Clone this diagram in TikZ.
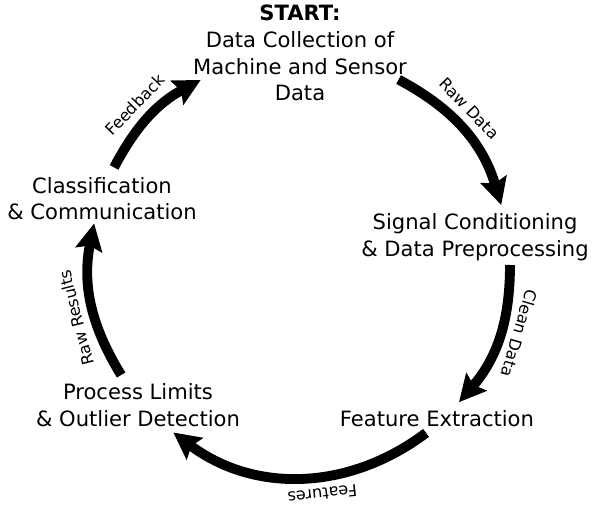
\documentclass[tikz,border=0pt]{standalone}
\usepackage{fontspec}
\setmainfont{DejaVu Sans}
\usetikzlibrary{arrows.meta}

\tikzstyle{stage} = [align=center, font=\fontsize{15}{19}\selectfont]
\tikzstyle{flow} = [line width=7pt, -{Stealth[length=19pt,width=19pt,inset=3pt]}]
\tikzstyle{flowlabel} = [pos=0.42, sloped, allow upside down, above=4pt, inner sep=1pt, font=\fontsize{11.5}{13}\selectfont]

\begin{document}
\begin{tikzpicture}
	\useasboundingbox (-7.5,-6.05) rectangle (7.5,6.625);
	\node[stage] (start) at (0,5.3) {\textbf{START:}\\Data Collection of\\Machine and Sensor\\Data};
	\node[stage] (sig) at (4.375,0.7) {Signal Conditioning\\\& Data Preprocessing};
	\node[stage] (feat) at (3.425,-3.85) {Feature Extraction};
	\node[stage] (proc) at (-4.05,-3.5) {Process Limits\\\& Outlier Detection};
	\node[stage] (class) at (-4.95,1.66) {Classification\\\& Communication};
	\coordinate (s1) at (62:5.25);
	\coordinate (e1) at (16.6:5.25);
	\coordinate (s2) at (0:5.25);
	\coordinate (e2) at (-40.8:5.25);
	\coordinate (s3) at (-53.1:5.25);
	\coordinate (e3) at (-127.1:5.25);
	\coordinate (s4) at (211.6:5.25);
	\coordinate (e4) at (168.6:5.25);
	\coordinate (s5) at (152.3:5.25);
	\coordinate (e5) at (118.2:5.25);
	\draw[flow] (s1) to[bend left=22.7] node[flowlabel, above=0.5pt] {Raw Data} (e1);
	\draw[flow] (s2) to[bend left=20.4] node[flowlabel] {Clean Data} (e2);
	\draw[flow] (s3) to[bend left=37] node[flowlabel] {Features} (e3);
	\draw[flow] (s4) to[bend left=21.5] node[flowlabel] {Raw Results} (e4);
	\draw[flow] (s5) to[bend left=17] node[flowlabel, pos=0.48, above=0.5pt] {Feedback} (e5);
\end{tikzpicture}
\end{document}
